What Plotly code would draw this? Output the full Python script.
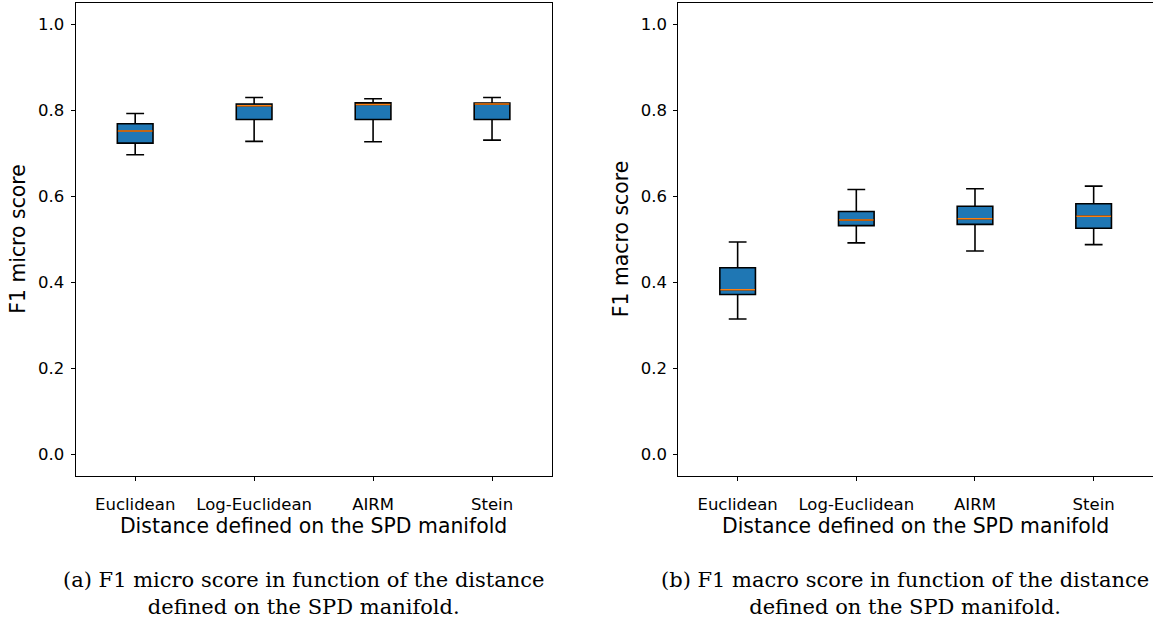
import plotly.graph_objects as go

categories = ["Euclidean", "Log-Euclidean", "AIRM", "Stein"]
positions = [1, 2, 3, 4]

# F1 micro score (left)
micro_lower = [0.696, 0.727, 0.726, 0.730]
micro_q1 = [0.723, 0.778, 0.778, 0.778]
micro_median = [0.751, 0.810, 0.813, 0.814]
micro_q3 = [0.768, 0.814, 0.817, 0.816]
micro_upper = [0.792, 0.829, 0.826, 0.829]

# F1 macro score (right)
macro_lower = [0.314, 0.491, 0.472, 0.487]
macro_q1 = [0.371, 0.531, 0.534, 0.525]
macro_median = [0.382, 0.544, 0.547, 0.553]
macro_q3 = [0.433, 0.564, 0.576, 0.582]
macro_upper = [0.493, 0.615, 0.617, 0.623]

y_ticks = [0.0, 0.2, 0.4, 0.6, 0.8, 1.0]

BOX_FILL = "#1f77b4"
MEDIAN = "#ff7f0e"
W = 0.3

fig = go.Figure()


def add_boxes(lo, q1, med, q3, up, xa, ya):
    fig.add_trace(go.Box(
        x=positions, lowerfence=lo, q1=q1, median=med, q3=q3, upperfence=up,
        xaxis=xa, yaxis=ya, width=W, whiskerwidth=0.5,
        fillcolor=BOX_FILL, line=dict(color="black", width=1.6),
        boxpoints=False, hoverinfo="skip", showlegend=False))
    fig.add_trace(go.Box(
        x=positions, lowerfence=med, q1=med, median=med, q3=med, upperfence=med,
        xaxis=xa, yaxis=ya, width=W * 0.97, whiskerwidth=0,
        fillcolor=MEDIAN, line=dict(color=MEDIAN, width=1.5),
        boxpoints=False, hoverinfo="skip", showlegend=False))


add_boxes(micro_lower, micro_q1, micro_median, micro_q3, micro_upper, "x", "y")
add_boxes(macro_lower, macro_q1, macro_median, macro_q3, macro_upper, "x2", "y2")

H = 630.0
W_PX = 1153.0
ydom = [1 - 475.5 / H, 1 - 2.5 / H]

tickfont = dict(family="DejaVu Sans", size=16.5, color="black")
titlefont = dict(family="DejaVu Sans", size=20.4, color="black")

xcommon = dict(range=[0.5, 4.5], tickvals=positions, ticktext=categories,
               showline=True, mirror=True, linecolor="black", linewidth=1.2,
               ticks="outside", ticklen=4, tickcolor="black", tickwidth=1,
               showgrid=False, zeroline=False, tickfont=tickfont,
               ticklabelstandoff=10)
ycommon = dict(range=[-0.05, 1.05], tickvals=y_ticks,
               ticktext=[f"{v:.1f}" for v in y_ticks],
               showline=True, mirror=True, linecolor="black", linewidth=1.2,
               ticks="outside", ticklen=4, tickcolor="black", tickwidth=1,
               showgrid=False, zeroline=False, tickfont=tickfont,
               ticklabelstandoff=3)

fig.update_layout(
    width=1153, height=630,
    margin=dict(l=0, r=0, t=0, b=0),
    paper_bgcolor="white", plot_bgcolor="white",
    boxmode="overlay",
    xaxis=dict(domain=[75.7 / W_PX, 551.5 / W_PX], anchor="y",
               title=dict(text="Distance defined on the SPD manifold", font=titlefont, standoff=0),
               **xcommon),
    yaxis=dict(domain=ydom, anchor="x",
               title=dict(text="F1 micro score", font=titlefont, standoff=6),
               **ycommon),
    xaxis2=dict(domain=[678.3 / W_PX, 1.0], anchor="y2",
                title=dict(text="Distance defined on the SPD manifold", font=titlefont, standoff=0),
                **xcommon),
    yaxis2=dict(domain=ydom, anchor="x2",
                title=dict(text="F1 macro score", font=titlefont, standoff=6),
                **ycommon),
)

capfont = dict(family="DejaVu Serif", size=21, color="black")
fig.add_annotation(text="(a) F1 micro score in function of the distance<br>defined on the SPD manifold.",
                   xref="paper", yref="paper", x=304 / W_PX, y=1 - 593 / H,
                   xanchor="center", yanchor="middle", showarrow=False,
                   font=capfont, align="center")
fig.add_annotation(text="(b) F1 macro score in function of the distance<br>defined on the SPD manifold.",
                   xref="paper", yref="paper", x=905 / W_PX, y=1 - 593 / H,
                   xanchor="center", yanchor="middle", showarrow=False,
                   font=capfont, align="center")

fig.write_html("out.html")
